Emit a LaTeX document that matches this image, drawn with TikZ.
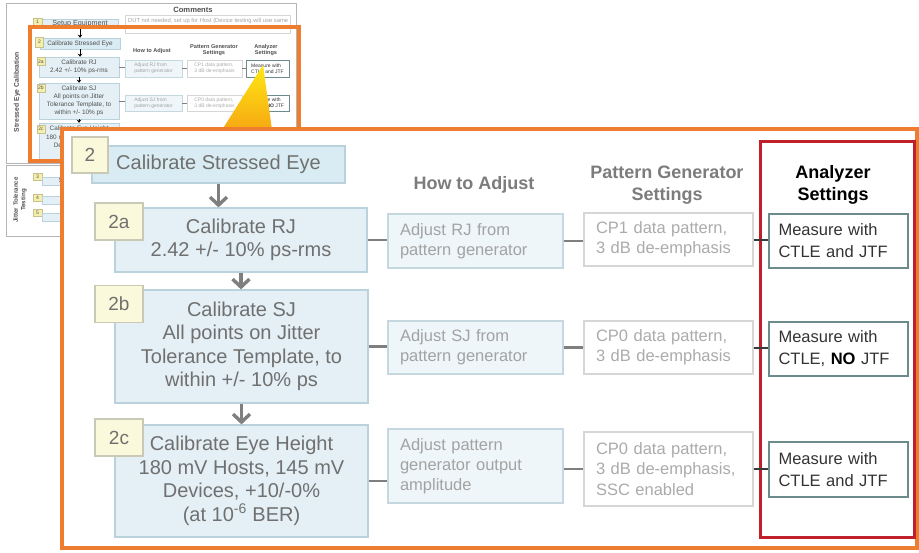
\documentclass[tikz,border=0pt]{standalone}
\usepackage{fontspec}
\setmainfont{Liberation Sans}
\usetikzlibrary{arrows.meta}

\definecolor{frameorange}{HTML}{EE7D2F}
\definecolor{framered}{HTML}{C1202B}
\definecolor{calfill}{HTML}{E4F0F5}
\definecolor{calfillB}{HTML}{D9ECF3}
\definecolor{calbd}{HTML}{B9D2DB}
\definecolor{badgefill}{HTML}{FBF9DC}
\definecolor{badgebd}{HTML}{C9C9B5}
\definecolor{caltext}{HTML}{707070}
\definecolor{adjfill}{HTML}{EEF6F9}
\definecolor{adjbd}{HTML}{C5D8DF}
\definecolor{adjtext}{HTML}{A3A3A3}
\definecolor{cpbd}{HTML}{D6D6D6}
\definecolor{cptext}{HTML}{ABABAB}
\definecolor{measbd}{HTML}{6D8A8C}
\definecolor{meastext}{HTML}{333333}
\definecolor{headgray}{HTML}{7C7C7C}
\definecolor{conngray}{HTML}{7F7F7F}
\definecolor{conndark}{HTML}{3A3A3A}
\definecolor{thumbbd}{HTML}{B5B5B5}
\definecolor{thumbtext}{HTML}{505050}
\definecolor{thumbbadge}{HTML}{F5EFAE}
\definecolor{thumbbadgebd}{HTML}{C8C08E}

\begin{document}
\begin{tikzpicture}[x=1pt,y=-1pt,
  calbox/.style={draw=calbd, fill=calfill, line width=1.2pt, text=caltext,
    font=\fontsize{20}{23.5}\selectfont, align=center, inner sep=0pt},
  badge/.style={draw=badgebd, fill=badgefill, line width=1.2pt, text=caltext,
    font=\fontsize{19}{22}\selectfont, minimum width=48pt, minimum height=37pt, inner sep=0pt},
  adjbox/.style={draw=adjbd, fill=adjfill, line width=1.2pt, text=adjtext,
    font=\fontsize{16.5}{20}\selectfont, align=left, text width=151pt, inner xsep=12pt,
    inner ysep=0pt, minimum width=175pt},
  cpbox/.style={draw=cpbd, fill=white, line width=1.2pt, text=cptext,
    font=\fontsize{16.5}{20.3}\selectfont, align=left, text width=145pt, inner xsep=12pt,
    inner ysep=0pt, minimum width=169pt},
  measbox/.style={draw=measbd, fill=white, line width=1.2pt, text=meastext,
    font=\fontsize{16.5}{22}\selectfont, align=left, text width=120pt, inner xsep=9.5pt,
    inner ysep=0pt, minimum width=139pt},
  head/.style={text=headgray, font=\bfseries\fontsize{18}{22}\selectfont, align=center, inner sep=0pt},
  conn/.style={draw=conngray, line width=2.2pt},
  connd/.style={draw=conndark, line width=2pt},
  darrow/.style={draw=conngray, line width=3.4pt, -{Straight Barb[length=8pt,width=17pt]}},
  tcal/.style={draw=calbd, fill=calfill, line width=0.5pt, text=thumbtext,
    font=\fontsize{6.4}{8.2}\selectfont, align=center, inner sep=0pt},
  tbadge/.style={draw=thumbbadgebd, fill=thumbbadge, line width=0.5pt, text=thumbtext,
    font=\fontsize{5}{6}\selectfont, inner sep=0pt},
  tadj/.style={draw=adjbd, fill=adjfill, line width=0.5pt, text=adjtext,
    font=\fontsize{5}{6.2}\selectfont, align=left, inner sep=0pt},
  tcp/.style={draw=cpbd, fill=white, line width=0.5pt, text=cptext,
    font=\fontsize{5}{6.2}\selectfont, align=left, inner sep=0pt},
  tmeas/.style={draw=measbd, fill=white, line width=0.5pt, text=meastext,
    font=\fontsize{5}{6.2}\selectfont, align=left, inner sep=0pt},
  thead/.style={text=thumbtext, font=\bfseries\fontsize{5.6}{6.6}\selectfont, align=center, inner sep=0pt},
  tconn/.style={draw=conngray, line width=0.6pt},
  tarrow/.style={draw=black, line width=0.8pt, -{Stealth[length=3pt,width=4.5pt]}}
]
\useasboundingbox (0,0) rectangle (919,552);
\fill[white] (0,0) rectangle (919,552);

% ---------- overview of the whole procedure (small) ----------
\draw[thumbbd, line width=0.6pt] (6,3) rectangle (296,163);
\draw[thumbbd, line width=0.6pt] (6,165) rectangle (100,236);
\node[rotate=90, text=thumbtext, font=\bfseries\fontsize{6.8}{8}\selectfont] (tsec1) at (17,92) {Stressed Eye Calibration};
\node[rotate=90, text=thumbtext, font=\bfseries\fontsize{6.2}{7.6}\selectfont, align=center] (tsec2) at (20,200) {Jitter Tolerance\\Testing};
\node[text=thumbtext, font=\bfseries\fontsize{7.6}{9}\selectfont, inner sep=0pt] (tcomh) at (193,10) {Comments};

\node[tcal, minimum width=76pt, minimum height=9pt, font=\fontsize{7.2}{8}\selectfont] (tsetup) at (80,23.5) {Setup Equipment};
\node[tbadge, minimum width=9pt, minimum height=8pt] (tk1) at (37.5,22) {1};
\node[draw=cpbd, fill=white, line width=0.5pt, minimum width=165pt, minimum height=18pt] (tcom) at (207.5,24) {};
\node[anchor=west, text=adjtext, font=\fontsize{5.8}{7}\selectfont, inner sep=0pt] (tcomtxt) at (128,20.5) {DUT not needed, set up for Host (Device testing will use same};

\node[tcal, fill=calfillB, minimum width=80pt, minimum height=11pt] (ts2) at (80,43.5) {Calibrate Stressed Eye};
\node[tbadge, minimum width=8pt, minimum height=10pt] (tk2) at (39.5,42) {2};
\node[thead] (th1) at (152,51) {How to Adjust};
\node[thead] (th2) at (214,50) {Pattern Generator\\Settings};
\node[thead] (th3) at (266,50) {Analyzer\\Settings};

\node[tcal, minimum width=80pt, minimum height=20pt] (tb2a) at (79,67) {Calibrate RJ\\2.42 +/- 10\% ps-rms};
\node[tbadge, minimum width=8pt, minimum height=8pt] (tk2a) at (41,61.5) {2a};
\node[tadj, minimum width=57pt, minimum height=17pt] (ta1) at (153.5,68.5) {Adjust RJ from\\pattern generator};
\node[tcp, minimum width=55pt, minimum height=17pt] (tc1) at (214.5,68.5) {CP1 data pattern,\\3 dB de-emphasis};
\node[tmeas, minimum width=43pt, minimum height=17pt] (tm1) at (267.5,68.5) {Measure with\\CTLE and JTF};

\node[tcal, minimum width=80pt, minimum height=36pt] (tb2b) at (79,101) {Calibrate SJ\\All points on Jitter\\Tolerance Template, to\\within +/- 10\% ps};
\node[tbadge, minimum width=8pt, minimum height=8pt] (tk2b) at (41,88) {2b};
\node[tadj, minimum width=57pt, minimum height=16pt] (ta2) at (153.5,103) {Adjust SJ from\\pattern generator};
\node[tcp, minimum width=55pt, minimum height=16pt] (tc2) at (214.5,103) {CP0 data pattern,\\3 dB de-emphasis};
\node[tmeas, minimum width=43pt, minimum height=16pt] (tm2) at (267.5,103) {Measure with\\CTLE, \textbf{NO} JTF};

\node[tcal, minimum width=80pt, minimum height=37pt] (tb2c) at (79,141.5) {Calibrate Eye Height\\180 mV Hosts, 145 mV\\Devices, +10/-0\%\\(at 10\textsuperscript{-6} BER)};
\node[tbadge, minimum width=8pt, minimum height=8pt] (tk2c) at (41,129) {2c};
\node[tadj, minimum width=57pt, minimum height=25pt] (ta3) at (153.5,139.5) {Adjust pattern\\generator output\\amplitude};
\node[tcp, minimum width=55pt, minimum height=26pt] (tc3) at (214.5,141) {CP0 data pattern,\\3 dB de-emphasis,\\SSC enabled};
\node[tmeas, minimum width=43pt, minimum height=18pt] (tm3) at (267.5,141) {Measure with\\CTLE and JTF};

\draw[tarrow] (tsetup.south -| ts2.south) -- (ts2.north);
\draw[tarrow] (ts2.south) -- (ts2.south |- tb2a.north);
\draw[tarrow] (tb2a.south) -- (tb2b.north);
\draw[tarrow] (tb2b.south) -- (tb2c.north);
\draw[tconn] (tb2a.east) -- (tb2a.east -| ta1.west);
\draw[tconn] (ta1.east) -- (tc1.west);
\draw[tconn] (tc1.east) -- (tm1.west);
\draw[tconn] (tb2b.east) -- (tb2b.east -| ta2.west);
\draw[tconn] (ta2.east) -- (tc2.west);
\draw[tconn] (tc2.east) -- (tm2.west);

\node[tbadge, minimum width=9pt, minimum height=7pt] (tk3) at (37.5,176.5) {3};
\node[tcal, minimum width=58pt, minimum height=8pt, anchor=west] (tb3) at (42,181) {\quad Setup DUT};
\node[tbadge, minimum width=9pt, minimum height=7pt] (tk4) at (37.5,197.5) {4};
\node[tcal, minimum width=58pt, minimum height=8pt, anchor=west] (tb4) at (42,200.5) {\quad Get DUT};
\node[tbadge, minimum width=9pt, minimum height=7pt] (tk5) at (37.5,213) {5};
\node[tcal, minimum width=58pt, minimum height=8pt, anchor=west] (tb5) at (42,217.5) {\quad Run};
\path (tk3) -- (tb3);

% ---------- zoom frame and pointer ----------
\draw[frameorange, line width=4pt] (30,27) rectangle (299,161);
\shade[top color={rgb,255:red,255;green,232;blue,20}, bottom color={rgb,255:red,246;green,168;blue,18}]
  (263,65) -- (222,130) -- (272,130) -- cycle;
\draw[frameorange, line width=4.5pt, fill=white] (62,129) rectangle (917,548);

% ---------- enlarged calibration steps ----------
\node[calbox, fill=calfillB, minimum width=253pt, minimum height=37pt] (s2) at (218.5,164.5) {Calibrate Stressed Eye};
\node[badge, minimum width=36pt, minimum height=36pt] (k2) at (90,155) {2};

\node[calbox, minimum width=252pt, minimum height=64pt] (b2a) at (241,240) {Calibrate RJ\\2.42 +/- 10\% ps-rms};
\node[badge] (k2a) at (119,221.5) {2a};

\node[calbox, minimum width=253pt, minimum height=113pt] (b2b) at (241.5,346.5) {Calibrate SJ\\All points on Jitter\\Tolerance Template, to\\within +/- 10\% ps};
\node[badge] (k2b) at (119,304) {2b};

\node[calbox, minimum width=253pt, minimum height=112pt] (b2c) at (241.5,481) {Calibrate Eye Height\\180 mV Hosts, 145 mV\\Devices, +10/-0\%\\(at 10\textsuperscript{-6} BER)};
\node[badge] (k2c) at (119,437.5) {2c};

\node[head] (hadj) at (474,185) {How to Adjust};
\node[head] (hpat) at (667,185) {Pattern Generator\\Settings};
\node[head, text=black] (hana) at (833,185) {Analyzer\\Settings};

\node[adjbox, minimum height=54pt] (a1) at (475.5,241) {Adjust RJ from\\pattern generator};
\node[adjbox, minimum height=53pt] (a2) at (475.5,347.5) {Adjust SJ from\\pattern generator};
\node[adjbox, minimum height=74pt] (a3) at (475.5,466) {Adjust pattern\\generator output\\amplitude};

\node[cpbox, minimum height=53pt] (c1) at (668.5,239.5) {CP1 data pattern,\\3 dB de-emphasis};
\node[cpbox, minimum height=53pt] (c2) at (668.5,347.5) {CP0 data pattern,\\3 dB de-emphasis};
\node[cpbox, minimum height=74pt] (c3) at (668.5,469) {CP0 data pattern,\\3 dB de-emphasis,\\SSC enabled};

\draw[framered, line width=3pt] (760,141) rectangle (914,537);

\node[measbox, minimum height=54pt] (m1) at (838.5,241) {Measure with\\CTLE and JTF};
\node[measbox, minimum height=54pt] (m2) at (838.5,349) {Measure with\\CTLE, \textbf{\color{black}NO} JTF};
\node[measbox, minimum height=55pt] (m3) at (838.5,469.5) {Measure with\\CTLE and JTF};

\draw[darrow] (s2.south) -- (s2.south |- b2a.north);
\draw[darrow] (b2a.south) -- (b2a.south |- b2b.north);
\draw[darrow] (b2b.south) -- (b2b.south |- b2c.north);

\draw[conn] (b2a.east) -- (b2a.east -| a1.west);
\draw[conn] (a1.east) -- (a1.east -| c1.west);
\draw[connd] (c1.east) -- (c1.east -| m1.west);

\draw[conn] (b2b.east) -- (b2b.east -| a2.west);
\draw[conn] (a2.east) -- (a2.east -| c2.west);
\draw[connd] (c2.east) -- (c2.east -| m2.west);

\draw[conn] (b2c.east) -- (b2c.east -| a3.west);
\draw[conn] (c3.west -| a3.east) -- (c3.west);
\draw[connd] (c3.east) -- (c3.east -| m3.west);
\end{tikzpicture}
\end{document}
